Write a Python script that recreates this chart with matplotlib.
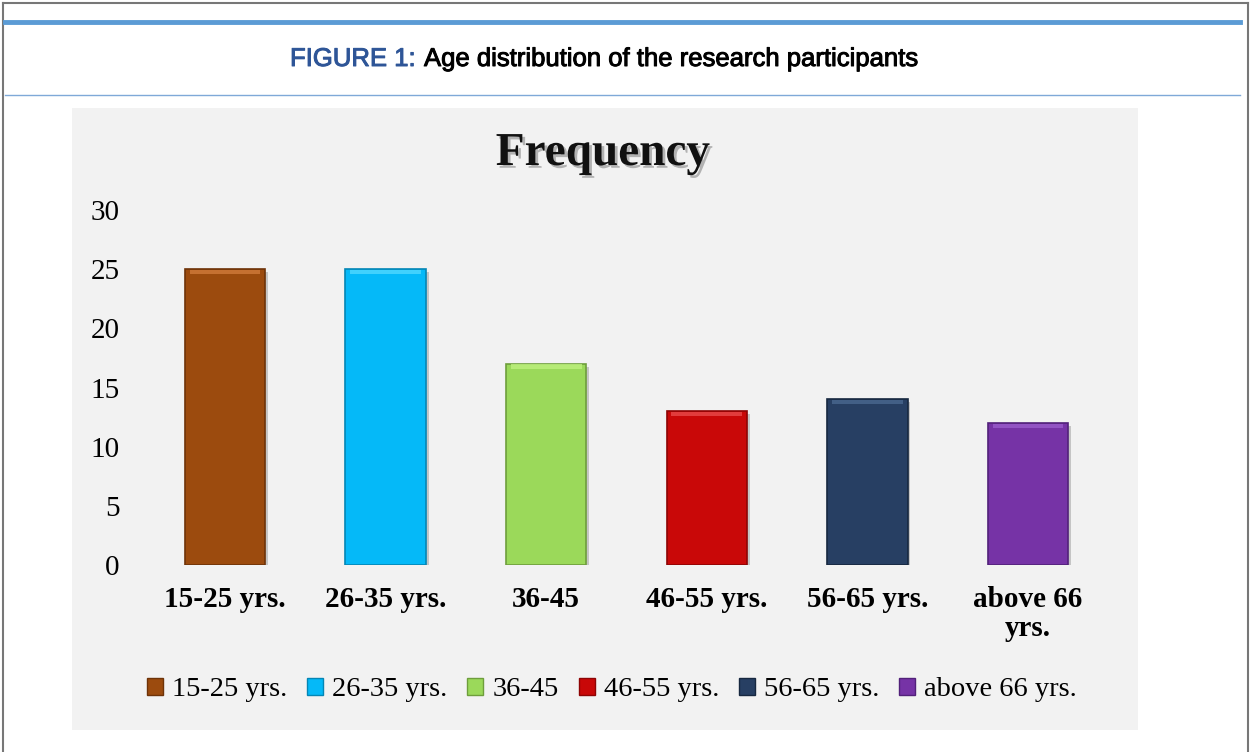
import numpy as np
import matplotlib
matplotlib.use("Agg")
import matplotlib.pyplot as plt
import matplotlib.patheffects as pe
from matplotlib.patches import Rectangle, Patch
from matplotlib.lines import Line2D

# data
groups = ["15-25 yrs.", "26-35 yrs.", "36-45", "46-55 yrs.", "56-65 yrs.", "above 66 yrs."]
tick_labels = ["15-25 yrs.", "26-35 yrs.", "36-45", "46-55 yrs.", "56-65 yrs.", "above 66\nyrs."]
freq = [25, 25, 17, 13, 14, 12]
colors = ["#9C4B0E", "#05B9F8", "#9BD95A", "#C90808", "#273F63", "#7633A6"]
edge_colors = ["#6E3308", "#0486B5", "#6E9E3C", "#8E0404", "#172840", "#52217A"]
top_colors = ["#D07A3A", "#4FD8FF", "#BDF07E", "#E84A4A", "#4A6890", "#9A5CCB"]

plt.rcParams['font.family'] = ['Liberation Serif', 'DejaVu Serif']

fig = plt.figure(figsize=(12.51, 7.52), dpi=100)
W, H = 1251, 752

def fx(px):
    return px / W

def fy(py):
    return 1 - py / H

# page frame and header lines
fig.add_artist(Line2D([fx(3), fx(3)], [fy(3), 0], color="#777777", lw=1.5))
fig.add_artist(Line2D([fx(3), fx(1248)], [fy(3), fy(3)], color="#777777", lw=1.5))
fig.add_artist(Line2D([fx(1248), fx(1248)], [fy(3), 0], color="#777777", lw=1.5))
fig.add_artist(Line2D([fx(5), fx(1240)], [fy(22), fy(22)], color="#5B9BD5", lw=3.5))
fig.add_artist(Line2D([fx(5), fx(1240)], [fy(95), fy(95)], color="#7FA9D8", lw=1))

head_font = ['Liberation Sans', 'DejaVu Sans']
fig.text(fx(290), fy(66), "FIGURE 1:", color="#2E5597", fontsize=18.5,
         family=head_font, ha="left", va="baseline",
         path_effects=[pe.withStroke(linewidth=0.7, foreground="#2E5597")])
fig.text(fx(424), fy(66), "Age distribution of the research participants", color="black",
         fontsize=18.5, family=head_font, ha="left", va="baseline",
         path_effects=[pe.withStroke(linewidth=0.7, foreground="black")])

# grey chart area
fig.add_artist(Rectangle((fx(72), fy(730)), fx(1138) - fx(72), fy(108) - fy(730),
                         facecolor="#F2F2F2", edgecolor="none", zorder=0))

ax = fig.add_axes([fx(144.7), fy(565), fx(1108.3) - fx(144.7), fy(210) - fy(565)])
ax.set_facecolor("none")
x = np.arange(len(groups))
bars = ax.bar(x, freq, width=0.5, color=colors, edgecolor=edge_colors, linewidth=1.2,
              zorder=2)
for b in bars:
    b.set_path_effects([pe.SimplePatchShadow(offset=(2, -2), shadow_rgbFace="#999999", alpha=0.5),
                        pe.Normal()])
# lighter bevel strip on the top of each bar
ax.bar(x, 0.35, bottom=np.array(freq) - 0.4, width=0.44, color=top_colors, linewidth=0,
       zorder=3, alpha=0.8)

ax.set_xlim(-0.5, len(groups) - 0.5)
ax.set_ylim(0, 30)
ax.set_yticks([0, 5, 10, 15, 20, 25, 30])
ax.set_xticks(x)
ax.set_xticklabels(tick_labels, fontweight="bold", fontsize=21, linespacing=1.1)
ax.tick_params(axis="y", length=0, pad=18, labelsize=21)
ax.tick_params(axis="x", length=0, pad=15)
for s in ax.spines.values():
    s.set_visible(False)

fig.text(fx(603), fy(154), "Frequency", fontsize=34, fontweight="bold", ha="center",
         va="center", color="#111111",
         path_effects=[pe.withSimplePatchShadow(offset=(2, -2), shadow_rgbFace="#888888", alpha=0.6)])

handles = [Patch(facecolor=c, edgecolor=e) for c, e in zip(colors, edge_colors)]
fig.legend(handles, groups, loc="center left", bbox_to_anchor=(fx(147), fy(690)), ncol=6,
           frameon=False, fontsize=20.5, handlelength=0.56, handleheight=0.56,
           handletextpad=0.32, columnspacing=0.7, borderpad=0, borderaxespad=0)

fig.savefig("out.png", dpi=100)
